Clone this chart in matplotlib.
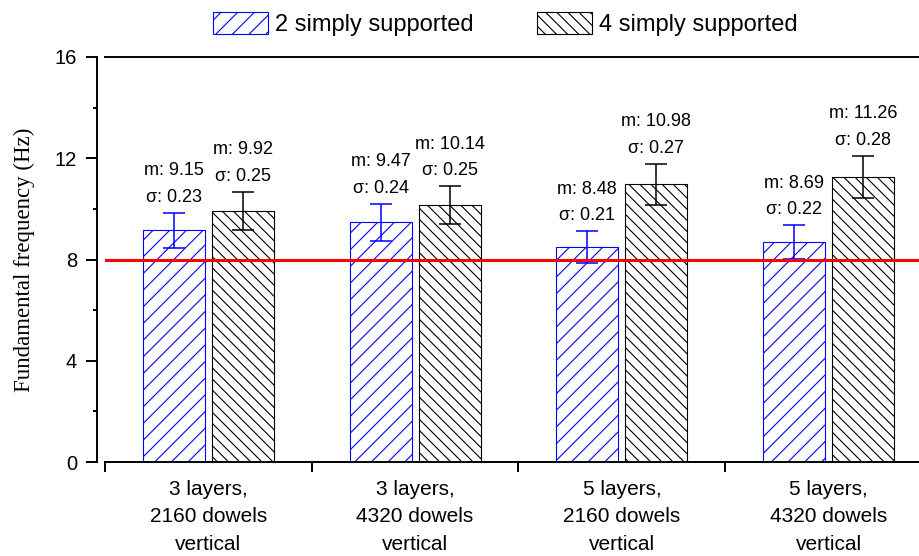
import matplotlib
matplotlib.use('Agg')
import matplotlib.pyplot as plt
import numpy as np

# data
groups = ['3 layers,\n2160 dowels\nvertical', '3 layers,\n4320 dowels\nvertical',
          '5 layers,\n2160 dowels\nvertical', '5 layers,\n4320 dowels\nvertical']
mean_2ss = [9.15, 9.47, 8.48, 8.69]
sigma_2ss = [0.23, 0.24, 0.21, 0.22]
mean_4ss = [9.92, 10.14, 10.98, 11.26]
sigma_4ss = [0.25, 0.25, 0.27, 0.28]
limit_freq = 8

plt.rcParams['font.family'] = ['Liberation Sans', 'DejaVu Sans']
plt.rcParams['hatch.linewidth'] = 0.8

fig = plt.figure(figsize=(9.2, 5.56), dpi=100)
# the plot runs past the right edge of the figure, like the original
ax = fig.add_axes([105/920, 1 - 462/556, 827/920, 405/556])

x = np.arange(len(groups)) + 0.5
w = 0.3
off = 0.167

b1 = ax.bar(x - off, mean_2ss, w, color='white', edgecolor='blue', hatch='//',
            lw=0.8, label='2 simply supported', zorder=2)
b2 = ax.bar(x + off, mean_4ss, w, color='white', edgecolor='black', hatch='\\\\\\',
            lw=0.8, label='4 simply supported', zorder=2)

# error bars are 3 sigma
err_2ss = 3 * np.array(sigma_2ss)
err_4ss = 3 * np.array(sigma_4ss)
ax.errorbar(x - off, mean_2ss, yerr=err_2ss, fmt='none', ecolor='blue',
            capsize=8, elinewidth=1.1, capthick=1.1, zorder=3)
ax.errorbar(x + off, mean_4ss, yerr=err_4ss, fmt='none', ecolor='black',
            capsize=8, elinewidth=1.1, capthick=1.1, zorder=3)

for xs, means, sigmas, errs in [(x - off, mean_2ss, sigma_2ss, err_2ss),
                                (x + off, mean_4ss, sigma_4ss, err_4ss)]:
    for xi, m, s, e in zip(xs, means, sigmas, errs):
        ax.annotate('m: %.2f\nσ: %.2f' % (m, s), (xi, m + e), xytext=(0, 5),
                    textcoords='offset points', ha='center', va='bottom',
                    fontsize=13, linespacing=1.75)

ax.axhline(limit_freq, color='red', lw=2.2, zorder=4)

ax.set_xlim(0, 4)
ax.set_ylim(0, 16)
ax.set_yticks([0, 4, 8, 12, 16])
ax.set_yticks([2, 6, 10, 14], minor=True)
ax.set_xticks([0, 1, 2, 3, 4])
ax.set_xticklabels([])
ax.set_xticks(x, minor=True)
ax.set_xticklabels(groups, minor=True)
for lab in ax.get_xticklabels(minor=True):
    lab.set_linespacing(1.55)

ax.tick_params(axis='x', which='major', direction='out', length=7, width=1.4)
ax.tick_params(axis='x', which='minor', length=0, pad=13, labelsize=15)
ax.tick_params(axis='y', which='major', length=8, width=1.4, pad=6, labelsize=14.5)
ax.tick_params(axis='y', which='minor', length=3, width=1.4)

ax.spines['left'].set_position(('outward', 6))
ax.spines['right'].set_visible(False)
for sp in ['left', 'bottom', 'top']:
    ax.spines[sp].set_linewidth(1.4)

ax.set_ylabel('Fundamental frequency (Hz)', family='Liberation Serif', fontsize=16.5,
              labelpad=14)

fig.legend(handles=[b1, b2], loc='center', bbox_to_anchor=(505/920, 1 - 24/556),
           ncol=2, frameon=False, fontsize=17, handlelength=2.33, handleheight=1.1,
           handletextpad=0.3, columnspacing=2.67)

fig.savefig('out.png', dpi=100)
